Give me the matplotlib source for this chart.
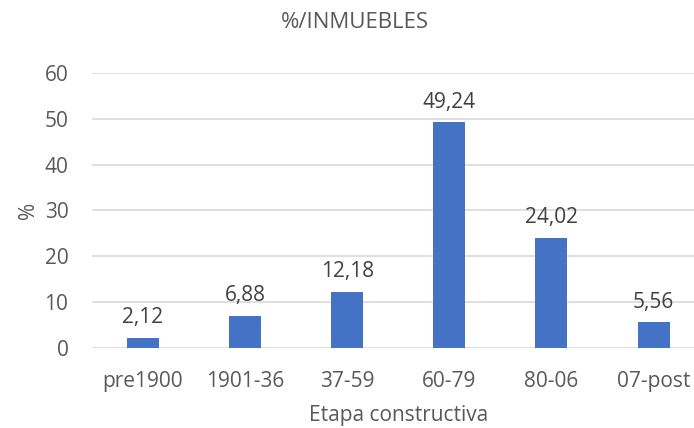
import matplotlib.pyplot as plt

# Data
categories = ['pre1900', '1901-36', '37-59', '60-79', '80-06', '07-post']
values = [2.12, 6.88, 12.18, 49.24, 24.02, 5.56]
labels = ['2,12', '6,88', '12,18', '49,24', '24,02', '5,56']

plt.rcParams['font.family'] = ['Open Sans', 'DejaVu Sans']

fig = plt.figure(figsize=(6.94, 4.28), dpi=100)
ax = fig.add_axes([92 / 694, 80.3 / 428, 612.6 / 694, 274.7 / 428])

x = range(len(categories))
bars = ax.bar(x, values, width=0.313, color='#4472c4', zorder=3)

for b, lab in zip(bars, labels):
    ax.annotate(lab, (b.get_x() + b.get_width() / 2, b.get_height()),
                xytext=(0, 7), textcoords='offset points',
                ha='center', va='bottom', fontsize=15, color='#404040')

ax.set_xlim(-0.5, len(categories) - 0.5)
ax.set_ylim(0, 60)
ax.set_yticks(range(0, 61, 10))
ax.set_xticks(list(x))
ax.set_xticklabels(categories)
ax.grid(axis='y', color='#d9d9d9', linewidth=1.2, zorder=0)
for s in ['top', 'right', 'left', 'bottom']:
    ax.spines[s].set_visible(False)
ax.tick_params(length=0, labelsize=15, labelcolor='#595959')
ax.tick_params(axis='x', pad=17)
ax.tick_params(axis='y', pad=17)

ax.set_xlabel('Etapa constructiva', fontsize=15, color='#595959', labelpad=9)
ax.set_ylabel('%', fontsize=15, color='#595959', labelpad=4)

fig.text(355 / 694, 1 - 23 / 428, '%/INMUEBLES', ha='center', va='center',
         fontsize=16, color='#595959')

fig.savefig('out.png', dpi=100)
